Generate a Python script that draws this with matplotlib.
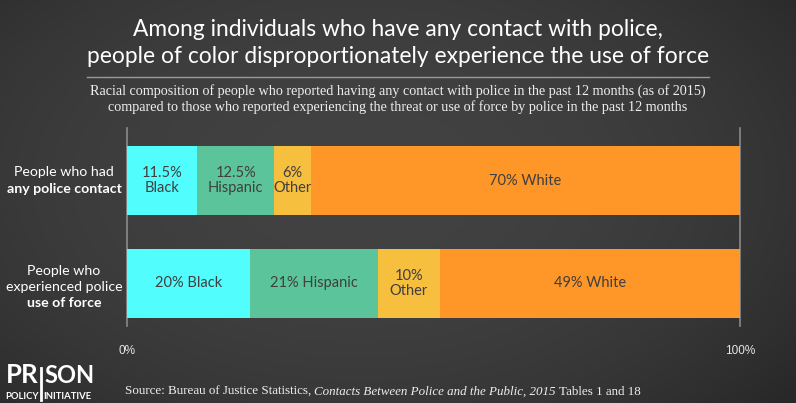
import numpy as np
import matplotlib
matplotlib.use("Agg")
import matplotlib.pyplot as plt
from matplotlib.lines import Line2D

# ---------------- data ----------------
groups = ["any police contact", "use of force"]
races = ["Black", "Hispanic", "Other", "White"]
contact_vals = [11.5, 12.5, 6, 70]
force_vals = [20, 21, 10, 49]
contact_labels = ["11.5%\nBlack", "12.5%\nHispanic", "6%\nOther", "70% White"]
force_labels = ["20% Black", "21% Hispanic", "10%\nOther", "49% White"]
colors = ["#52FDFE", "#5CC49A", "#F7BF3E", "#FF9628"]
xtick_vals = [0, 100]
xtick_labels = ["0%", "100%"]

W, H = 796, 403
DPI = 100
fig = plt.figure(figsize=(W / DPI, H / DPI), dpi=DPI)

def fx(x):
    return x / W

def fy(y):
    return 1 - y / H

# background radial gradient
bg = fig.add_axes([0, 0, 1, 1], zorder=-10)
yy, xx = np.mgrid[0:H, 0:W]
r = np.sqrt(((xx - W * 0.45) / (W * 0.62)) ** 2 + ((yy - H * 0.45) / (H * 0.75)) ** 2)
v = 66 - 20 * np.clip(r, 0, 1.3) ** 2.2
v = np.clip(v, 40, 70) / 255.0
img = np.dstack([v, v, v])
bg.imshow(img, aspect="auto", extent=[0, 1, 0, 1], interpolation="bilinear")
bg.set_axis_off()

SANS = ["Lato", "DejaVu Sans"]
SERIF = ["Liberation Serif", "DejaVu Serif"]
TXT = "#3F3F3F"

# ---------------- main axes ----------------
ax = fig.add_axes([fx(127), fy(326), fx(740) - fx(127), (326 - 128) / H])
ax.set_facecolor("none")
for vals, labs, y in [(contact_vals, contact_labels, 0), (force_vals, force_labels, 1)]:
    left = 0
    for val, lab, c in zip(vals, labs, colors):
        ax.barh(y, val, left=left, height=0.67, color=c, linewidth=0, zorder=2)
        ax.text(left + val / 2, y, lab, ha="center", va="center", color=TXT,
                fontsize=10.5, family=SANS, linespacing=1.15, zorder=3)
        left += val
ax.set_xlim(0, 100)
ax.set_ylim(1.413, -0.51)
for s in ["top", "bottom"]:
    ax.spines[s].set_visible(False)
for s in ["left", "right"]:
    ax.spines[s].set_color("#8a8a8a")
    ax.spines[s].set_linewidth(1.2)
    ax.spines[s].set_zorder(1)
ax.set_yticks([])
ax.set_xticks(xtick_vals)
ax.set_xticklabels(xtick_labels, family=["Liberation Sans", "DejaVu Sans"], fontsize=8.5, color="#e6e6e6")
ax.tick_params(axis="x", length=0, pad=14)

# category labels
lab_kw = dict(ha="center", va="center", color="white", fontsize=10.2, family=SANS)
fig.text(fx(64), fy(172), "People who had", **lab_kw)
fig.text(fx(64), fy(189), "any police contact", fontweight="bold", **lab_kw)
fig.text(fx(64), fy(271), "People who", **lab_kw)
fig.text(fx(64), fy(287), "experienced police", **lab_kw)
fig.text(fx(64), fy(303), "use of force", fontweight="bold", **lab_kw)

# title
fig.text(fx(398), fy(36), "Among individuals who have any contact with police,",
         ha="center", va="baseline", color="white", fontsize=16.4, family=SANS)
fig.text(fx(398), fy(63), "people of color disproportionately experience the use of force",
         ha="center", va="baseline", color="white", fontsize=16.4, family=SANS)
fig.add_artist(Line2D([fx(87), fx(709)], [fy(77), fy(77)], color="#9a9a9a", lw=1.0))
fig.text(fx(398), fy(95), "Racial composition of people who reported having any contact with police in the past 12 months (as of 2015)",
         ha="center", va="baseline", color="#eeeeee", fontsize=10.2, family=SERIF)
fig.text(fx(398), fy(111), "compared to those who reported experiencing the threat or use of force by police in the past 12 months",
         ha="center", va="baseline", color="#eeeeee", fontsize=10.2, family=SERIF)

# source line with italic part
fig.canvas.draw()
renderer = fig.canvas.get_renderer()
xcur = fx(125)
parts = [("Source: Bureau of Justice Statistics, ", "normal"),
         ("Contacts Between Police and the Public, 2015", "italic"),
         (" Tables 1 and 18", "normal")]
for txt, style in parts:
    t = fig.text(xcur, fy(395), txt, ha="left", va="baseline", color="#eeeeee",
                 fontsize=9.4, family=SERIF, style=style)
    bb = t.get_window_extent(renderer)
    xcur += bb.width / W

# logo
fig.text(fx(38), fy(383), "PR", ha="right", va="baseline", color="white", fontsize=18.5,
         family=SANS, fontweight="bold")
fig.text(fx(44), fy(383), "SON", ha="left", va="baseline", color="white", fontsize=17,
         family=SANS, fontweight="bold")
fig.add_artist(Line2D([fx(41), fx(41)], [fy(368), fy(400)], color="white", lw=2.0))
fig.text(fx(39), fy(399), "POLICY", ha="right", va="baseline", color="white", fontsize=6.8,
         family=SANS, fontweight="bold")
fig.text(fx(43), fy(399), "INITIATIVE", ha="left", va="baseline", color="white", fontsize=6.8,
         family=SANS, fontweight="bold")

fig.savefig("out.png", dpi=DPI)
